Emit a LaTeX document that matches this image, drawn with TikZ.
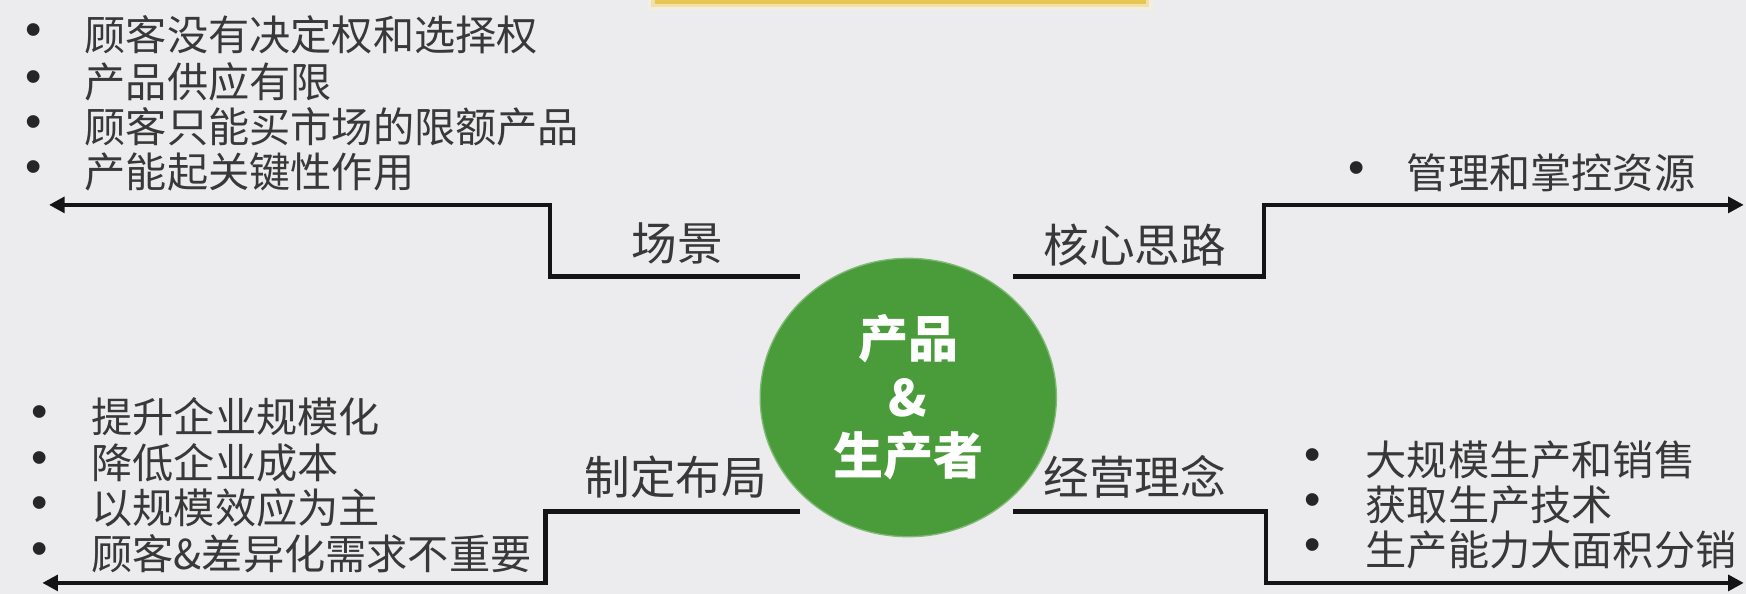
\documentclass[tikz,border=0pt]{standalone}
\usepackage{fontspec}
\setmainfont{Noto Sans CJK SC}
\newfontfamily\dotfont{Liberation Sans}
\usetikzlibrary{arrows.meta,shapes.geometric}
\definecolor{bg}{HTML}{ECEBED}
\definecolor{txt}{HTML}{383838}
\definecolor{grn}{HTML}{4A9C3B}
\definecolor{gold}{HTML}{E8C656}
\tikzset{
  item/.style={anchor=west, inner sep=0pt, text=txt, font=\fontsize{18.5}{22}\selectfont},
  dotmark/.style={inner sep=0pt, text=black!85, font=\dotfont\fontsize{21}{24}\selectfont},
  lbl/.style={inner sep=0pt, text=txt, font=\fontsize{20.5}{24}\selectfont},
  conn/.style={line width=2pt, draw=black!92, -{Triangle[length=7pt,width=7pt]}},
  hub/.style={ellipse, fill=grn, draw=grn!70!white, line width=0.6pt, minimum width=266pt*0.5, minimum height=250pt*0.5, inner sep=0pt, text=white, align=center, font=\fontsize{22.5}{26.25}\selectfont\bfseries}
}
\begin{document}
\begin{tikzpicture}[x=0.5pt,y=-0.5pt]
\fill[bg] (0,0) rectangle (1568,533);
\useasboundingbox (0,0) rectangle (1568,533);
% yellow bar at top
\fill[gold!25, opacity=0.5] (582,0) rectangle (1035,9);
\fill[gold!60, opacity=0.8] (585,0) rectangle (1032,6);
\fill[gold] (588,0) rectangle (1029,4);

% hub
\node[hub] (hub) at (815.7,357) {产品\\\&\\生产者};

% coordinates
\coordinate (tlS) at (718,248.5);
\coordinate (tlA) at (494,248.5);
\coordinate (tlB) at (494,184);
\coordinate (tlE) at (44,184);
\coordinate (trS) at (910,248.5);
\coordinate (trA) at (1135,248.5);
\coordinate (trB) at (1135,184);
\coordinate (trE) at (1566,184);
\coordinate (blS) at (718,459.5);
\coordinate (blA) at (490,459.5);
\coordinate (blB) at (490,523.5);
\coordinate (blE) at (38,523.5);
\coordinate (brS) at (910,459.5);
\coordinate (brA) at (1137,459.5);
\coordinate (brB) at (1137,523.5);
\coordinate (brE) at (1566,523.5);

\draw[conn] (tlS) -- (tlA) -- (tlB) -- (tlE);
\draw[conn] (trS) -- (trA) -- (trB) -- (trE);
\draw[conn] (blS) -- (blA) -- (blB) -- (blE);
\draw[conn] (brS) -- (brA) -- (brB) -- (brE);

% labels
\node[lbl] (l1) at (608,218.6) {场景};
\node[lbl] (l2) at (1019,220) {核心思路};
\node[lbl] (l3) at (607,428) {制定布局};
\node[lbl] (l4) at (1019,428) {经营理念};

% top-left bullets
\node[dotmark] (d11) at (30,31.4) {•};
\node[dotmark] (d12) at (30,73.3) {•};
\node[dotmark] (d13) at (30,113.8) {•};
\node[dotmark] (d14) at (30,154) {•};
\node[item] (t11) at (75.6,31.4) {顾客没有决定权和选择权};
\node[item] (t12) at (75.6,73.3) {产品供应有限};
\node[item] (t13) at (75.6,113.8) {顾客只能买市场的限额产品};
\node[item] (t14) at (75.6,154) {产能起关键性作用};

% top-right bullet
\node[dotmark] (d21) at (1218,155) {•};
\node[item] (t21) at (1263,155) {管理和掌控资源};

% bottom-left bullets
\node[dotmark] (d31) at (36,374) {•};
\node[dotmark] (d32) at (36,415.5) {•};
\node[dotmark] (d33) at (36,456) {•};
\node[dotmark] (d34) at (36,497) {•};
\node[item] (t31) at (81.7,374) {提升企业规模化};
\node[item] (t32) at (81.7,415.5) {降低企业成本};
\node[item] (t33) at (81.7,456) {以规模效应为主};
\node[item] (t34) at (81.7,497) {顾客\&差异化需求不重要};

% bottom-right bullets
\node[dotmark] (d41) at (1179,413) {•};
\node[dotmark] (d42) at (1179,453.5) {•};
\node[dotmark] (d43) at (1179,494) {•};
\node[item] (t41) at (1226,413) {大规模生产和销售};
\node[item] (t42) at (1226,453.5) {获取生产技术};
\node[item] (t43) at (1226,494) {生产能力大面积分销};
\end{tikzpicture}
\end{document}
